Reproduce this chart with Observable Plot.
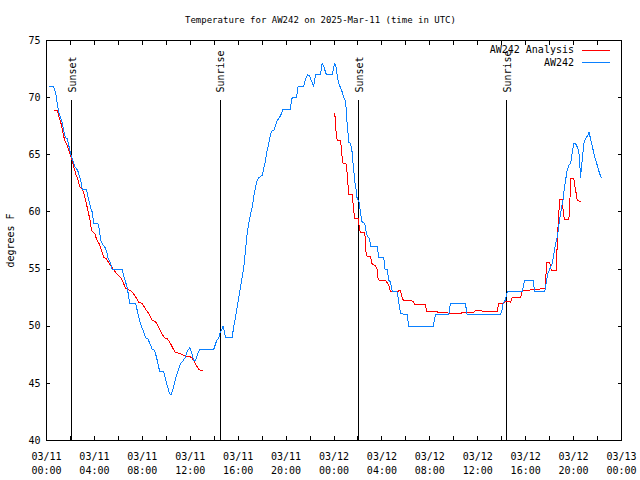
<!DOCTYPE html>
<html><head><meta charset="utf-8">
<script src="https://cdn.jsdelivr.net/npm/d3@7"></script>
<script src="https://cdn.jsdelivr.net/npm/@observablehq/plot@0.6"></script>
<style>body{margin:0;background:#fff}#chart{width:640px;height:480px}</style>
</head><body><div id="chart"></div>
<script>
const title = "Temperature for AW242 on 2025-Mar-11 (time in UTC)";
const yLabel = "degrees F";
const startUTC = Date.UTC(2025, 2, 11);
const seriesNames = ["AW242 Analysis", "AW242"];
const seriesColors = ["#ff0000", "#0a80ff"];
const yTicks = [40, 45, 50, 55, 60, 65, 70, 75];
const labelTickHours = [0, 4, 8, 12, 16, 20, 24, 28, 32, 36, 40, 44, 48];
const minorTickHours = [0,2,4,6,8,10,12,14,16,18,20,22,24,26,28,30,32,34,36,38,40,42,44,46,48];
const eventNames = ["Sunset", "Sunrise", "Sunset", "Sunrise"];
const eventHours = [2.09, 14.49, 26.07, 38.41];

// [hours since 03/11 00:00 UTC, deg F]
const obs = [[0.28,71],[0.56,71],[0.75,70.5],[0.83,70],[0.94,69.2],[1.03,68.7],[1.17,68.3],[1.31,67.8],[1.44,67.1],[1.59,66.5],[1.73,66.4],[1.86,65.8],[2.00,65.2],[2.09,64.8],[2.23,64.4],[2.34,64],[2.50,63.8],[2.65,63.5],[2.78,63],[2.92,62.5],[2.98,62],[3.34,62],[3.45,61.4],[3.56,60.9],[3.67,60.4],[3.81,60],[3.95,59],[4.28,59],[4.40,58.5],[4.51,57.6],[4.65,57.2],[4.84,57],[5.01,56.6],[5.12,56],[5.34,55.5],[5.48,55],[6.32,55],[6.45,54.4],[6.59,53.9],[6.74,53.4],[6.87,52.5],[6.95,52],[7.43,52],[7.57,51.4],[7.70,50.8],[7.85,50.2],[8.07,49.6],[8.26,49],[8.46,48.9],[8.62,48.5],[8.82,48],[9.02,47.9],[9.18,47.3],[9.37,46.4],[9.46,46],[9.79,46],[9.93,45.4],[10.08,44.8],[10.27,44.1],[10.41,44],[10.54,44.4],[10.68,45],[10.85,45.7],[11.04,46.3],[11.19,46.7],[11.41,47],[11.60,47.3],[11.79,47.9],[11.96,48.1],[12.10,47.7],[12.30,47],[12.44,47],[12.63,47.6],[12.80,48],[13.97,48],[14.19,48.7],[14.38,49],[14.52,49.5],[14.75,50],[14.94,49],[15.50,49],[15.63,50],[15.78,50.8],[15.92,51.7],[16.05,52.5],[16.19,53.4],[16.34,54.3],[16.47,55.2],[16.61,56.6],[16.75,58.1],[16.89,59],[17.03,59.8],[17.17,60.4],[17.30,61.3],[17.45,62.2],[17.59,62.8],[17.72,63],[18.01,63.2],[18.14,63.8],[18.28,64.5],[18.42,65.4],[18.56,66],[18.70,66.8],[18.84,67.1],[18.97,67.1],[19.12,67.6],[19.26,68],[19.53,68.4],[19.76,69],[20.37,69],[20.43,69.6],[20.51,70],[20.87,70],[20.98,70.9],[21.06,71],[21.48,71],[21.62,71.6],[21.81,72],[21.98,71.9],[22.10,71.5],[22.31,71],[22.45,72],[22.87,72],[23.01,73],[23.15,72.7],[23.37,72],[23.85,72],[24.04,73],[24.15,72.8],[24.27,71.9],[24.40,71.2],[24.54,70.9],[24.68,70.5],[24.82,70],[24.96,69.75],[25.02,68.9],[25.10,67.7],[25.18,66.8],[25.23,66.1],[25.38,66],[25.52,65.2],[25.57,64.5],[25.65,63.6],[25.73,62.75],[25.85,61.9],[25.94,61.1],[26.07,61],[26.15,60.4],[26.24,59.7],[26.35,59.1],[26.57,59],[26.69,58.2],[26.82,57.8],[26.96,57.7],[27.05,57],[27.60,57],[27.74,56],[28.16,56],[28.24,55],[28.44,55],[28.57,54],[28.71,53.9],[28.86,53.1],[28.99,53],[29.27,53],[29.41,52.1],[29.55,51.1],[30.11,51],[30.24,50],[32.28,50],[32.39,50.6],[32.47,51],[33.58,51],[33.72,52],[34.97,52],[35.11,51],[37.90,51],[38.04,51.5],[38.12,52],[38.31,52.3],[38.46,53],[39.71,53],[39.90,54],[40.63,54],[40.73,53.1],[40.82,53],[41.59,53],[41.74,54],[41.84,54.6],[42.01,55],[42.21,55.5],[42.35,56.3],[42.49,57.2],[42.63,57.8],[42.76,58.7],[42.85,59.5],[42.96,60.1],[43.05,60.7],[43.13,61.1],[43.24,62.2],[43.35,62.9],[43.46,63.6],[43.60,64.1],[43.74,64.2],[43.88,65.1],[44.02,66],[44.16,66],[44.43,65.4],[44.52,64.2],[44.57,63],[44.72,64.5],[44.85,66],[44.99,66.4],[45.18,66.7],[45.30,67],[45.41,66.4],[45.55,65.8],[45.68,65.2],[45.82,64.6],[45.97,64.1],[46.10,63.6],[46.30,63]];

const analysisNight1 = [[0.69,68.9],[0.89,68.9],[1.11,68.1],[1.25,67.6],[1.39,66.8],[1.53,66.25],[1.73,65.8],[1.94,65.1],[2.15,64.5],[2.28,63.9],[2.45,63.3],[2.65,62.75],[2.78,62.2],[3.01,62],[3.20,61.3],[3.40,60.4],[3.61,59.4],[3.76,58.4],[4.03,58.1],[4.17,57.65],[4.40,57.2],[4.59,56.6],[4.78,56],[5.01,55.9],[5.23,55.5],[5.43,55.2],[5.57,55],[5.84,54.6],[6.07,54.4],[6.26,54.15],[6.45,53.7],[6.59,53.3],[6.87,53.2],[7.15,53],[7.43,52.6],[7.70,52.1],[7.99,52],[8.26,51.5],[8.54,51.1],[8.82,50.5],[9.10,50.4],[9.37,49.9],[9.66,49.3],[9.85,49],[10.08,48.9],[10.35,48.5],[10.58,48],[10.77,47.7],[11.04,47.65],[11.33,47.5],[11.60,47.4],[11.96,47.35],[12.16,47.2],[12.44,46.7],[12.71,46.2],[13.00,46.1]];

const analysisNight2 = [[24.04,68.6],[24.12,68.15],[24.18,66.8],[24.27,66.25],[24.54,66.25],[24.62,65.5],[24.68,64.8],[24.77,64.2],[25.02,64.2],[25.10,63.3],[25.18,62.2],[25.23,61.5],[25.52,61.5],[25.65,60.1],[25.73,59.4],[26.02,59.4],[26.13,58.5],[26.21,58.2],[26.57,58.2],[26.69,56.2],[26.77,56.1],[27.05,56.1],[27.19,55.4],[27.46,55.3],[27.60,55],[27.69,54.05],[28.30,54],[28.57,53.6],[28.71,53],[29.55,53.1],[29.63,52.7],[29.74,52.3],[30.58,52.2],[30.75,51.9],[31.64,51.9],[31.72,51.3],[32.61,51.3],[32.66,51.2],[33.58,51.15],[34.56,51.1],[34.70,51.2],[35.67,51.2],[35.81,51.4],[36.64,51.3],[37.62,51.3],[37.76,52],[38.17,52],[38.31,52.2],[38.73,52.1],[38.87,52.5],[39.57,52.5],[39.71,53.1],[41.65,53.3],[41.74,55.6],[42.01,55.6],[42.13,54.9],[42.57,54.9],[42.63,57.2],[42.68,58.4],[42.76,59.5],[42.82,61.1],[43.05,61.1],[43.13,60.1],[43.24,59.3],[43.60,59.3],[43.68,60.3],[43.74,62.9],[44.02,62.9],[44.10,62.3],[44.22,61.6],[44.30,61],[44.57,60.9]];

const toDate = h => new Date(startUTC + h * 3600e3);
const obsRows = obs.map(([h, t]) => ({time: toDate(h), temp: t}));
const anaRows = [
  ...analysisNight1.map(([h, t]) => ({time: toDate(h), temp: t, seg: 1})),
  ...analysisNight2.map(([h, t]) => ({time: toDate(h), temp: t, seg: 2}))
];
const events = eventNames.map((name, i) => ({name, time: toDate(eventHours[i])}));
const fmtD = d3.utcFormat("%m/%d"), fmtT = d3.utcFormat("%H:%M");
const font = "'DejaVu Sans Mono', monospace";
const crisp = {shapeRendering: "crispEdges"};

const plot = Plot.plot({
  width: 640, height: 480,
  marginLeft: 46, marginRight: 19, marginTop: 40, marginBottom: 40,
  style: {fontFamily: font, fontSize: "10px", background: "#fff", color: "#000", overflow: "visible"},
  x: {type: "utc", domain: [toDate(0), toDate(48)]},
  y: {domain: [40, 75]},
  marks: [
    Plot.axisY({ticks: yTicks, tickSize: 0, tickPadding: 6, label: yLabel, labelAnchor: "center", labelArrow: "none", labelOffset: 40, tickFormat: d => d}),
    Plot.axisY({ticks: yTicks, anchor: "left", tickSize: 4, dx: 4, fill: "none", label: null, ...crisp}),
    Plot.axisY({ticks: yTicks, anchor: "right", tickSize: 4, dx: -4, fill: "none", label: null, ...crisp}),
    Plot.axisX({ticks: labelTickHours.map(toDate), tickSize: 0, tickPadding: 10, lineHeight: 1.35, tickFormat: d => fmtD(d) + "\n" + fmtT(d), label: null}),
    Plot.axisX({ticks: minorTickHours.map(toDate), anchor: "bottom", tickSize: 4, dy: -4, fill: "none", label: null, ...crisp}),
    Plot.axisX({ticks: minorTickHours.map(toDate), anchor: "top", tickSize: 4, dy: 4, fill: "none", label: null, ...crisp}),
    Plot.ruleX(events, {x: "time", y1: 40, y2: 69.75, stroke: "#000", strokeWidth: 1, ...crisp}),
    Plot.text(events, {x: "time", y: 70.45, text: "name", rotate: -90, textAnchor: "start", lineAnchor: "middle", dx: 1, fill: "#000"}),
    Plot.line(anaRows, {x: "time", y: "temp", z: "seg", stroke: seriesColors[0], strokeWidth: 1, ...crisp}),
    Plot.line(obsRows, {x: "time", y: "temp", stroke: seriesColors[1], strokeWidth: 1, ...crisp}),
    Plot.frame({stroke: "#000", strokeWidth: 1, ...crisp}),
    Plot.text([title], {frameAnchor: "top", dy: -20, dx: -13.5, lineAnchor: "middle", fontSize: 9, fill: "#000"})
  ]
});

const svg = d3.select(plot);
const lg = svg.append("g").attr("font-family", font).attr("font-size", 10);
seriesNames.forEach((name, i) => {
  const y = 50 + 12.5 * i;
  lg.append("text").attr("x", 574).attr("y", y).attr("text-anchor", "end").attr("dy", "0.32em").attr("fill", "#000").text(name);
  lg.append("line").attr("x1", 582).attr("x2", 610).attr("y1", y).attr("y2", y).attr("stroke", seriesColors[i]).attr("stroke-width", 1).attr("shape-rendering", "crispEdges");
});
document.getElementById("chart").appendChild(plot);
</script>
</body></html>
